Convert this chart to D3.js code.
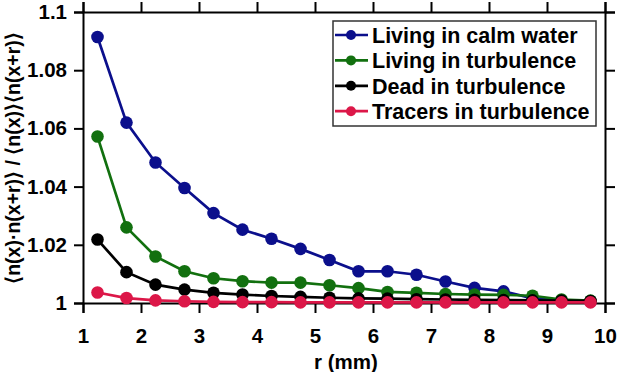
<!DOCTYPE html>
<html>
<head>
<meta charset="utf-8">
<script src="https://cdn.jsdelivr.net/npm/d3@7"></script>
<style>
  body { margin: 0; background: #fff; }
  text { font-family: "Liberation Sans", Arial, sans-serif; font-weight: bold; }
</style>
</head>
<body>
<div id="my_dataviz"></div>
<script>
// r values (mm)
var rValues = [1.25, 1.75, 2.25, 2.75, 3.25, 3.75, 4.25, 4.75, 5.25, 5.75, 6.25, 6.75, 7.25, 7.75, 8.25, 8.75, 9.25, 9.75];

var seriesNames = ["Living in calm water", "Living in turbulence", "Dead in turbulence", "Tracers in turbulence"];
var seriesColors = ["#0b0f8c", "#12700f", "#000000", "#dc1748"];

var livingCalm = [1.0914, 1.0620, 1.0483, 1.0395, 1.0309, 1.0252, 1.0221, 1.0186, 1.0148, 1.0109, 1.0109, 1.0097, 1.0074, 1.0052, 1.0040, 1.0016, 1.0009, 1.0005];
var livingTurb = [1.0572, 1.0260, 1.0160, 1.0109, 1.0085, 1.0075, 1.0070, 1.0070, 1.0061, 1.0051, 1.0038, 1.0035, 1.0031, 1.0029, 1.0028, 1.0025, 1.0012, 1.0008];
var deadTurb = [1.0218, 1.0106, 1.0063, 1.0046, 1.0035, 1.0029, 1.0024, 1.0021, 1.0018, 1.0016, 1.0015, 1.0013, 1.0012, 1.0011, 1.0010, 1.0009, 1.0008, 1.0007];
var tracersTurb = [1.0036, 1.0017, 1.0009, 1.0006, 1.0004, 1.0003, 1.0003, 1.0002, 1.0002, 1.0002, 1.0002, 1.0002, 1.0002, 1.0002, 1.0002, 1.0002, 1.0002, 1.0002];

var xTicks = [1, 2, 3, 4, 5, 6, 7, 8, 9, 10];
var yTicks = [1, 1.02, 1.04, 1.06, 1.08, 1.1];
var yTickLabels = ["1", "1.02", "1.04", "1.06", "1.08", "1.1"];

var allSeries = [livingCalm, livingTurb, deadTurb, tracersTurb];

var width = 617, height = 372;
var margin = {left: 83, right: 12, top: 12, bottom: 69};

var svg = d3.select("#my_dataviz").append("svg").attr("width", width).attr("height", height);

var x = d3.scaleLinear().domain([1, 10]).range([margin.left, width - margin.right]);
var y = d3.scaleLinear().domain([1, 1.1]).range([height - margin.bottom, margin.top]);

// axes, ticks all pointing outward like the original
var bottomAxis = svg.append("g")
    .attr("transform", "translate(0," + y(1) + ")")
    .call(d3.axisBottom(x).tickValues(xTicks).tickSize(10).tickPadding(15).tickFormat(d3.format("d")));
var topAxis = svg.append("g")
    .attr("transform", "translate(0," + y(1.1) + ")")
    .call(d3.axisTop(x).tickValues(xTicks).tickSize(10).tickFormat(""));
var leftAxis = svg.append("g")
    .attr("transform", "translate(" + x(1) + ",0)")
    .call(d3.axisLeft(y).tickValues(yTicks).tickSize(9).tickPadding(7)
      .tickFormat(function (d, i) { return yTickLabels[i]; }));
var rightAxis = svg.append("g")
    .attr("transform", "translate(" + x(10) + ",0)")
    .call(d3.axisRight(y).tickValues(yTicks).tickSize(10).tickFormat(""));

[bottomAxis, topAxis, leftAxis, rightAxis].forEach(function (a) {
  a.selectAll("path.domain").attr("stroke", "#000").attr("stroke-width", 2);
  a.selectAll(".tick line").attr("stroke", "#000").attr("stroke-width", 2);
  a.selectAll(".tick text").attr("fill", "#000")
    .style("font-size", "20.5px").style("font-family", "'Liberation Sans', Arial, sans-serif").style("font-weight", "bold");
});

// lines and markers
var line = d3.line()
  .x(function (d, i) { return x(rValues[i]); })
  .y(function (d) { return y(d); });

allSeries.forEach(function (vals, k) {
  var g = svg.append("g");
  g.append("path")
    .datum(vals)
    .attr("d", line)
    .attr("fill", "none")
    .attr("stroke", seriesColors[k])
    .attr("stroke-width", 2.7);
  g.selectAll("circle")
    .data(vals)
    .enter()
    .append("circle")
    .attr("cx", function (d, i) { return x(rValues[i]); })
    .attr("cy", function (d) { return y(d); })
    .attr("r", 6.3)
    .attr("fill", seriesColors[k]);
});

// legend
var legend = svg.append("g").attr("transform", "translate(333,21)");
legend.append("rect")
  .attr("width", 263).attr("height", 105)
  .attr("fill", "#fff").attr("stroke", "#333").attr("stroke-width", 1.5);
seriesNames.forEach(function (name, k) {
  var yy = 14 + k * 25.4;
  legend.append("line")
    .attr("x1", 2).attr("x2", 35).attr("y1", yy).attr("y2", yy)
    .attr("stroke", seriesColors[k]).attr("stroke-width", 2.7);
  legend.append("circle")
    .attr("cx", 18).attr("cy", yy).attr("r", 5)
    .attr("fill", seriesColors[k]);
  legend.append("text")
    .attr("x", 39).attr("y", yy)
    .attr("dy", "0.36em")
    .style("font-size", "21.5px")
    .text(name);
});

// axis titles
svg.append("text")
  .attr("x", 346).attr("y", 368.5)
  .attr("text-anchor", "middle")
  .style("font-size", "20.5px")
  .text("r (mm)");

svg.append("text")
  .attr("transform", "translate(20,158) rotate(-90)")
  .attr("text-anchor", "middle")
  .style("font-size", "19.5px")
  .text("\u27E8n(x)\u00B7n(x+r)\u27E9 / \u27E8n(x)\u27E9\u27E8n(x+r)\u27E9");
</script>
</body>
</html>
